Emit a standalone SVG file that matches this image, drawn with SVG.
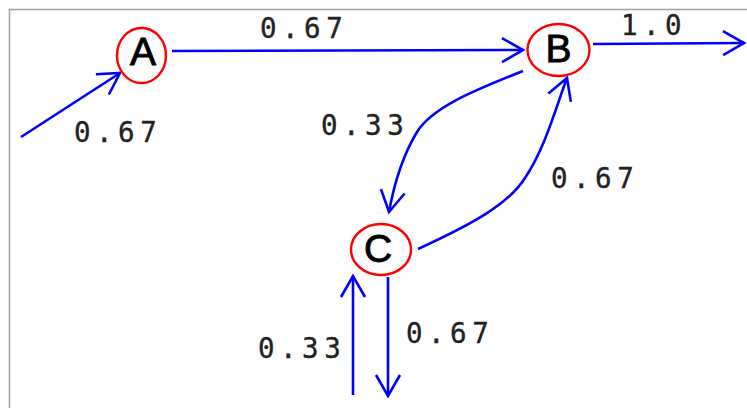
<svg xmlns="http://www.w3.org/2000/svg" width="747" height="408" viewBox="0 0 747 408">
<style>
.node ellipse{fill:#fff;stroke:#ff0000;stroke-width:2.4}
.node text{font-family:"Liberation Sans",Arial,sans-serif;font-size:39px;fill:#000;stroke:#000;stroke-width:0.9;text-anchor:middle}
.edge{fill:none;stroke:#0000ff;stroke-width:2.6}
.lbl{font-family:"DejaVu Sans Mono",monospace;font-size:27.5px;fill:#222;stroke:#222;stroke-width:0.35;letter-spacing:5.5px}
</style>
<defs>
<marker id="arr" markerUnits="userSpaceOnUse" markerWidth="30" markerHeight="30" viewBox="-25 -15 30 30" refX="0" refY="0" orient="auto" overflow="visible">
<path d="M -21 -12 L 0 0 L -21 12" fill="none" stroke="#0000ff" stroke-width="2.6"/>
</marker>
</defs>
<rect width="747" height="408" fill="#fff"/>
<path d="M 9.5 408 L 9.5 9.5 L 747 9.5" fill="none" stroke="#a0a0a0" stroke-width="1.5"/>
<g id="connectors">
<path class="edge" d="M 21 137 L 120 73" marker-end="url(#arr)"/>
<path class="edge" d="M 172 51 L 523 50" marker-end="url(#arr)"/>
<path class="edge" d="M 593 44 L 744 43" marker-end="url(#arr)"/>
<path class="edge" d="M 523 71 C 470 92, 432 108, 417 132 C 400 160, 393 190, 389 212" marker-end="url(#arr)"/>
<path class="edge" d="M 418 249 C 470 225, 508 205, 525 178 C 545 148, 555 110, 567 78" marker-end="url(#arr)"/>
<path class="edge" d="M 388 277 L 388 396" marker-end="url(#arr)"/>
<path class="edge" d="M 353 395 L 353 276" marker-end="url(#arr)"/>
</g>
<g id="A" class="node"><ellipse cx="141.5" cy="55.5" rx="24.5" ry="27.5"/><text x="143" y="65">A</text></g>
<g id="B" class="node"><ellipse cx="558.5" cy="50" rx="31" ry="26"/><text x="558.5" y="62">B</text></g>
<g id="C" class="node"><ellipse cx="381" cy="249.5" rx="30" ry="25.5"/><text x="378" y="262">C</text></g>
<g id="labels">
<text class="lbl" x="260" y="38">0.67</text>
<text class="lbl" x="621" y="35">1.0</text>
<text class="lbl" x="74" y="142">0.67</text>
<text class="lbl" x="321" y="135">0.33</text>
<text class="lbl" x="551" y="188">0.67</text>
<text class="lbl" x="258" y="358">0.33</text>
<text class="lbl" x="406" y="343">0.67</text>
</g>
</svg>
